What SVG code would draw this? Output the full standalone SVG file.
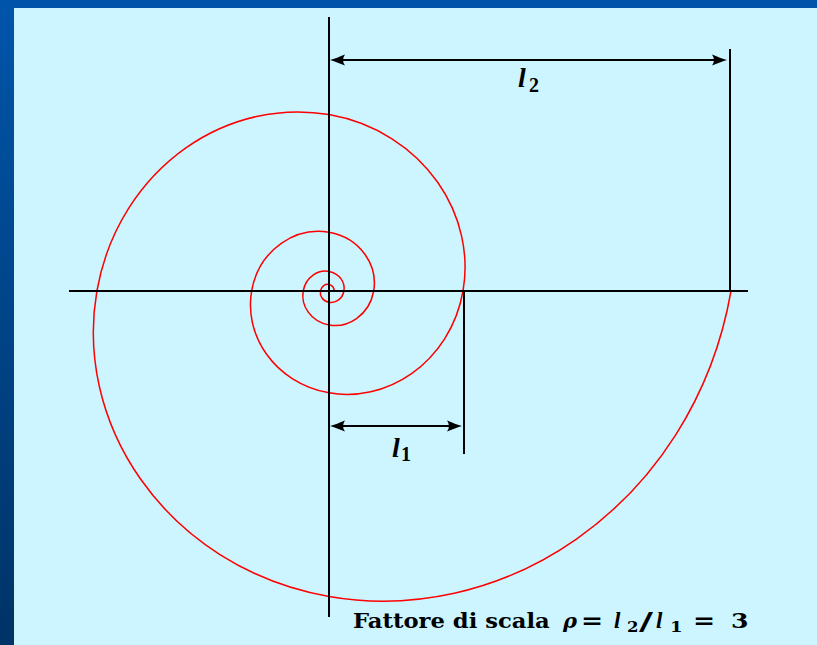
<svg xmlns="http://www.w3.org/2000/svg" xmlns:xlink="http://www.w3.org/1999/xlink" width="817" height="645" viewBox="0 0 817 645">
  <style>
    .ax { stroke: #000; stroke-width: 2; fill: none; }
    .sp { stroke: #ff0000; stroke-width: 1.5; fill: none; vector-effect: non-scaling-stroke; }
    .lab { font-family: "Liberation Serif", "DejaVu Serif", serif; font-weight: bold; fill: #000; }
    .cap { font-family: "DejaVu Serif", "Liberation Serif", serif; font-weight: bold; fill: #000; }
    .it { font-style: italic; }
  </style>
  <defs>
    <linearGradient id="sideGrad" x1="0" y1="0" x2="0" y2="1">
      <stop offset="0" stop-color="#0055aa"/>
      <stop offset="1" stop-color="#003366"/>
    </linearGradient>
    <marker id="arr" markerUnits="userSpaceOnUse" orient="auto-start-reverse" refX="-5" refY="0" markerWidth="20" markerHeight="14" overflow="visible">
      <path d="M0,0 C-4,-1 -10,-3.5 -15,-5.5 Q-11,0 -15,5.5 C-10,3.5 -4,1 0,0 Z" fill="#000"/>
    </marker>
    <path id="turn" class="sp" d="M134,0 C140.2,35.5 132.5,74.8 108.7,108.7 C84.9,142.6 46.8,168.2 0,176.4 C-46.8,184.5 -98.5,174.4 -143.1,143.1 C-187.6,111.7 -221.3,61.6 -232.1,0 C-242.9,-61.6 -229.5,-129.6 -188.3,-188.3 C-147.1,-246.9 -81,-291.3 0,-305.5 C81,-319.6 170.6,-302 247.8,-247.8 C325,-193.6 383.4,-106.6 402,0"/>
  </defs>

  <g id="background">
    <rect x="0" y="0" width="817" height="645" fill="#ccf5ff"/>
    <rect x="0" y="0" width="14" height="645" fill="url(#sideGrad)"/>
    <rect x="0" y="0" width="817" height="8" fill="#0055aa"/>
  </g>

  <g id="spiral" transform="translate(329,291) scale(1,-1)">
    <use href="#turn" xlink:href="#turn"/>
    <use href="#turn" xlink:href="#turn" transform="scale(0.333333)"/>
    <use href="#turn" xlink:href="#turn" transform="scale(0.111111)"/>
    <use href="#turn" xlink:href="#turn" transform="scale(0.037037)"/>
  </g>

  <g id="connectors">
    <line id="x-axis" class="ax" x1="69" y1="291" x2="748" y2="291"/>
    <line id="y-axis" class="ax" x1="329" y1="17" x2="329" y2="617"/>
    <line id="tick-l2" class="ax" x1="730" y1="49" x2="730" y2="291"/>
    <line id="tick-l1" class="ax" x1="464" y1="291" x2="464" y2="454"/>
    <line id="dim-l2" class="ax" x1="335" y1="60" x2="722" y2="60" marker-start="url(#arr)" marker-end="url(#arr)"/>
    <line id="dim-l1" class="ax" x1="335" y1="426" x2="457" y2="426" marker-start="url(#arr)" marker-end="url(#arr)"/>
  </g>

  <g id="label-l2" class="lab">
    <text class="it" x="518" y="87" font-size="28">l</text>
    <text x="529" y="92" font-size="20">2</text>
  </g>
  <g id="label-l1" class="lab">
    <text class="it" x="392" y="457" font-size="28">l</text>
    <text x="401" y="461" font-size="20">1</text>
  </g>

  <g id="caption" class="cap" font-size="21">
    <text transform="translate(353,628) scale(1.08,1)">Fattore di scala</text>
    <text class="it" x="563" y="628">ρ</text>
    <text transform="translate(581,628) scale(1.2,1)" font-size="22">=</text>
    <text class="it lab" x="614" y="628" font-size="23">l</text>
    <text transform="translate(627,632) scale(1.1,1)" font-size="15">2</text>
    <text transform="translate(639,630) scale(1.6,1)" font-size="24">/</text>
    <text class="it lab" x="656" y="628" font-size="23">l</text>
    <text transform="translate(670,632) scale(1.2,1)" font-size="15">1</text>
    <text transform="translate(693,628) scale(1.2,1)" font-size="22">=</text>
    <text transform="translate(731,628) scale(1.2,1)" font-size="21">3</text>
  </g>
</svg>
